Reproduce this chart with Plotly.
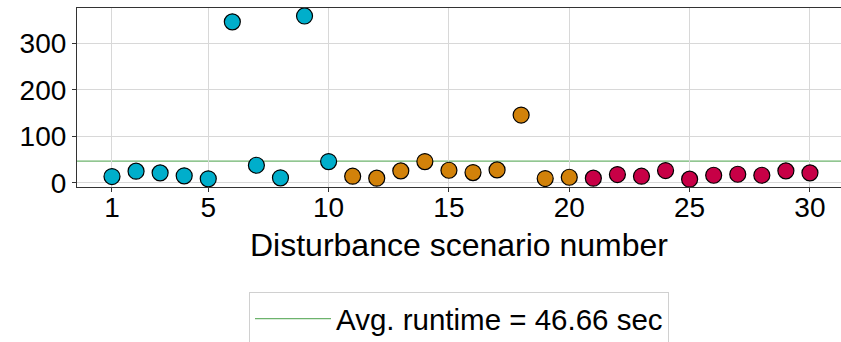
import plotly.graph_objects as go

scenarios = list(range(1, 31))
runtimes = [13.5, 25.0, 21.4, 15.0, 8.6, 346.0, 37.8, 10.7, 358.6, 45.7,
            14.2, 10.0, 25.7, 45.7, 27.0, 22.0, 27.8, 145.7, 9.2, 12.0,
            10.0, 17.8, 14.2, 26.4, 7.8, 16.3, 18.4, 16.3, 25.7, 21.4]
group_colors = ["#00AECB", "#D2820A", "#C70046"]
avg_runtime = 46.66
x_ticks = [1, 5, 10, 15, 20, 25, 30]
y_ticks = [0, 100, 200, 300]

fig = go.Figure()
for g in range(3):
    xs = scenarios[g * 10:(g + 1) * 10]
    ys = runtimes[g * 10:(g + 1) * 10]
    fig.add_trace(go.Scatter(
        x=xs, y=ys, mode="markers", showlegend=False,
        marker=dict(size=16, color=group_colors[g],
                    line=dict(color="black", width=1.2))))

fig.add_shape(type="line", xref="x domain", yref="y", x0=0, x1=1,
              y0=avg_runtime, y1=avg_runtime,
              line=dict(color="#6DB36D", width=1.2), layer="below",
              showlegend=True, name=f"Avg. runtime = {avg_runtime:.2f} sec")

font = "Liberation Sans, Arial, sans-serif"
fig.update_layout(
    width=841, height=342,
    margin=dict(l=77, r=0, t=8, b=155, autoexpand=False),
    paper_bgcolor="white", plot_bgcolor="white",
    font=dict(family=font, size=28, color="black"),
    showlegend=True,
    legend=dict(orientation="h", x=0.5, xanchor="center",
                yref="container", y=1 - 292 / 342, yanchor="top",
                bordercolor="#d0d0d0", borderwidth=1, bgcolor="white",
                font=dict(size=29.5), itemwidth=76),
    xaxis=dict(range=[-0.454, 31.29], tickmode="array", tickvals=x_ticks,
               automargin=False,
               showgrid=True, gridcolor="#d8d8d8", gridwidth=1,
               showline=True, linecolor="#333333", linewidth=1.2, mirror=True,
               ticks="outside", ticklen=4, tickcolor="#333333",
               tickfont=dict(size=28), zeroline=False, ticklabelstandoff=-9,
               title=dict(text="Disturbance scenario number", font=dict(size=32), standoff=11)),
    yaxis=dict(range=[-9.0, 375.8], tickmode="array", tickvals=y_ticks,
               automargin=False,
               showgrid=True, gridcolor="#d8d8d8", gridwidth=1,
               showline=True, linecolor="#333333", linewidth=1.2, mirror=True,
               ticks="outside", ticklen=4, tickcolor="#333333",
               tickfont=dict(size=28), zeroline=False),
)

fig.write_html("out.html", config={"displayModeBar": False},
               post_script="document.body.style.margin='0';document.body.style.overflow='hidden';")
